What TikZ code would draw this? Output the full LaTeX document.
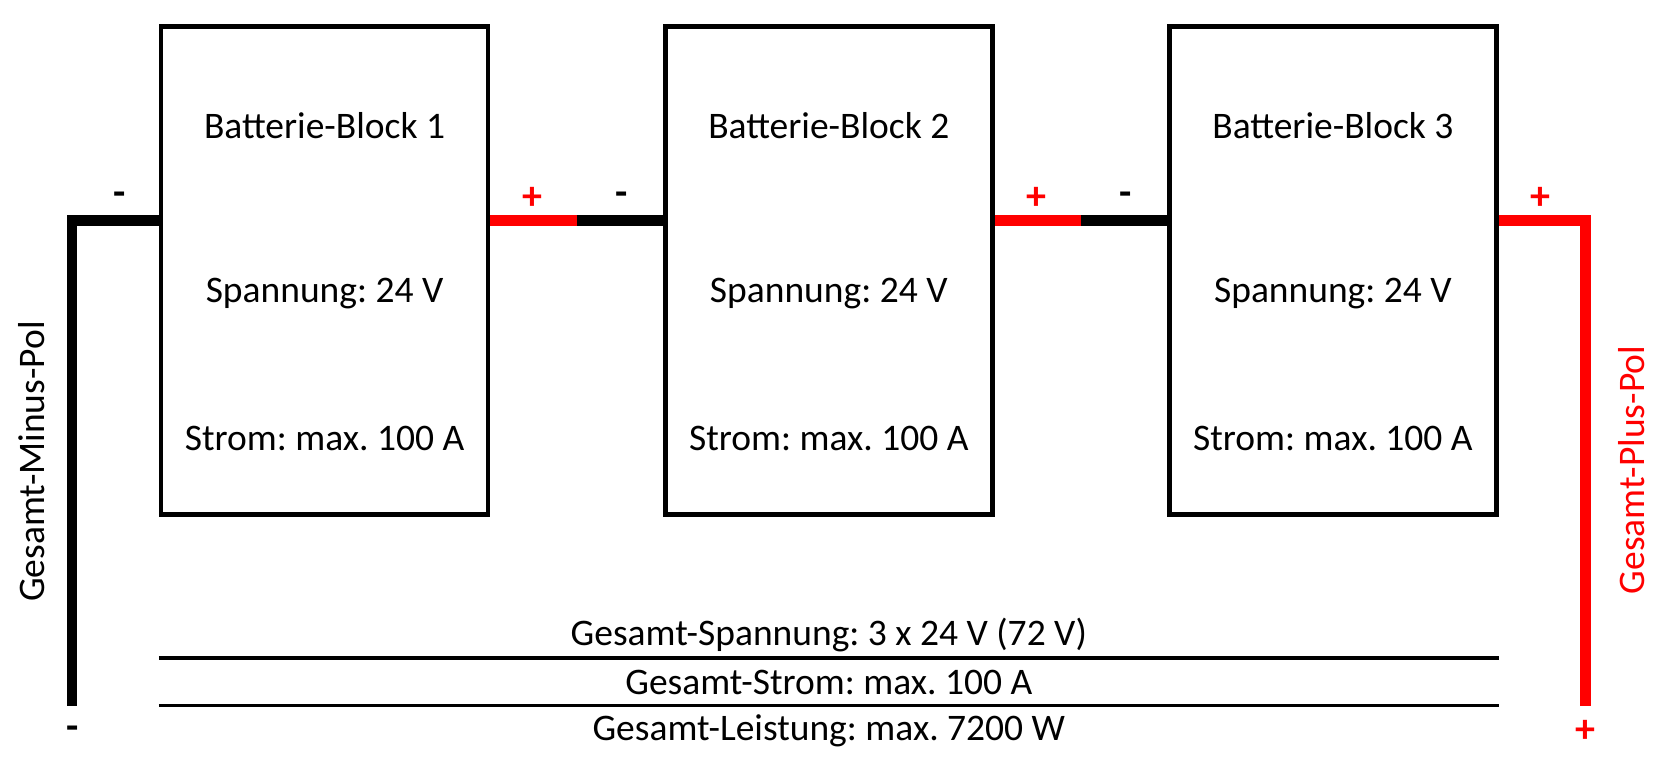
\documentclass[tikz,border=0pt]{standalone}
\usepackage{fontspec}
\setmainfont{Carlito}
\frenchspacing
\definecolor{wred}{RGB}{255,0,0}
\tikzset{
  blk/.style={draw=black, line width=4.5pt, minimum width=327pt, minimum height=488pt, inner sep=0pt},
  txt/.style={font=\fontsize{37.5}{44}\selectfont, inner sep=0pt, anchor=center},
  pol/.style={font=\bfseries\fontsize{40}{44}\selectfont, inner sep=0pt},
  wb/.style={draw=black, line width=10.5pt, line join=miter},
  wr/.style={draw=wred, line width=10.5pt, line join=miter},
  thin/.style={draw=black, line width=3.3pt}
}
\begin{document}
\begin{tikzpicture}[x=1pt,y=-1pt]
\useasboundingbox (0,0) rectangle (1664,770);
% blocks
\node[blk] (b1) at (324.6,270.6) {};
\node[blk] (b2) at (828.8,270.6) {};
\node[blk] (b3) at (1332.9,270.6) {};
\foreach \n/\x in {1/324.6,2/828.8,3/1332.9}{
  \node[txt] (t\n a) at (\x,125.2) {Batterie-Block \n};
  \node[txt] (t\n b) at (\x,294) {Spannung: 24 V};
  \node[txt] (t\n c) at (\x,438.3) {Strom: max. 100 A};
}
% wire coordinates
\coordinate (wy) at (0,220.7);
\coordinate (lc) at (72.2,220.7);
\coordinate (lb) at (72.2,705.7);
\coordinate (rc) at (1585.4,220.7);
\coordinate (rb) at (1585.4,705.7);
\coordinate (m12) at (576.7,220.7);
\coordinate (m23) at (1080.9,220.7);
% wires
\draw[wb] (b1.west |- wy) -- (lc) -- (lb);
\draw[wr] (b1.east |- wy) -- (m12);
\draw[wb] (m12) -- (b2.west |- wy);
\draw[wr] (b2.east |- wy) -- (m23);
\draw[wb] (m23) -- (b3.west |- wy);
\draw[wr] (b3.east |- wy) -- (rc) -- (rb);
% pole labels
\node[pol] (p1) at (120,199) {-};
\node[pol, text=wred] (p2) at (532.5,198.5) {+};
\node[pol] (p3) at (621.5,199) {-};
\node[pol, text=wred] (p4) at (1036.8,198.5) {+};
\node[pol] (p5) at (1125.5,199) {-};
\node[pol, text=wred] (p6) at (1540.9,198.5) {+};
\node[pol] (pm) at (73,732.5) {-};
\node[pol, text=wred] (pp) at (1585.7,731) {+};
% total lines
\coordinate (ly1) at (0,658);
\coordinate (ly2) at (0,705.7);
\draw[thin] (b1.west |- ly1) -- (b3.east |- ly1);
\draw[thin] (b1.west |- ly2) -- (b3.east |- ly2);
\node[txt] (g1) at (828.8,634.6) {Gesamt-Spannung: 3 x 24 V (72 V)};
\node[txt] (g2) at (828.8,682.4) {Gesamt-Strom: max. 100 A};
\node[txt] (g3) at (828.8,731.2) {Gesamt-Leistung: max. 7200 W};
% side labels
\node[txt, rotate=90] (sm) at (31.8,461.6) {Gesamt-Minus-Pol};
\node[txt, rotate=90, text=wred] (sp) at (1632,470) {Gesamt-Plus-Pol};
\end{tikzpicture}
\end{document}
